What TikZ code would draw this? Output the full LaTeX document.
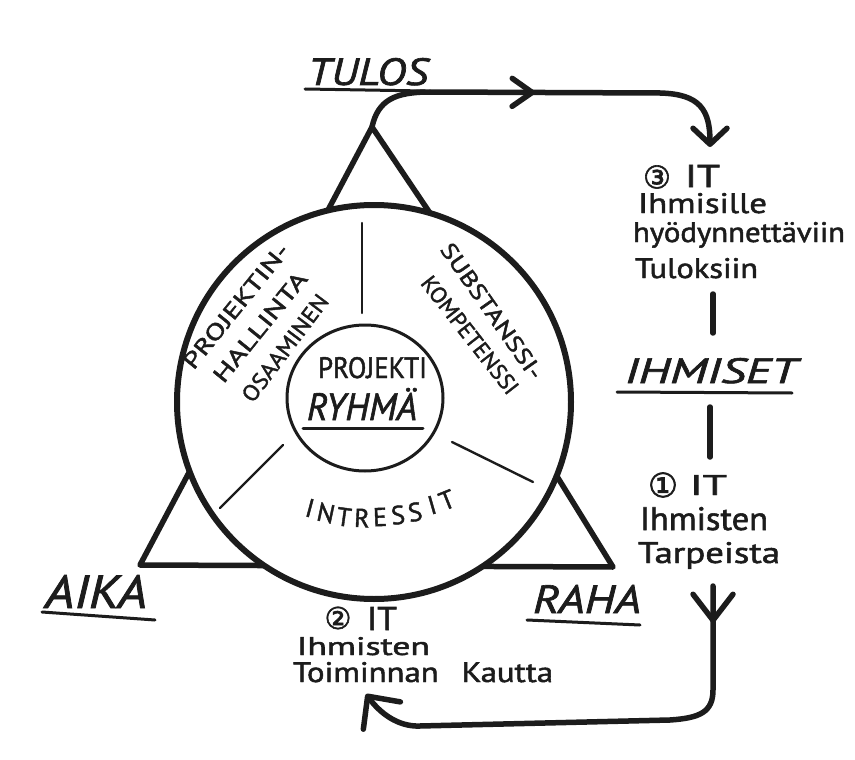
\documentclass[tikz,border=0pt]{standalone}
\usepackage{fontspec}
\usepackage{graphicx}
\setmainfont{PT Sans}[FakeBold=1.6]
\newfontfamily\circfont{DejaVu Sans}[FakeBold=2]
\usetikzlibrary{arrows.meta,decorations.markings}
\definecolor{ink}{HTML}{1C1C1C}
\newcommand\fitbox[3]{\resizebox{#1pt}{#2pt}{#3}}
\begin{document}
\begin{tikzpicture}[x=1pt,y=-1pt,
  txt/.style={inner sep=0pt,outer sep=0pt,text=ink},
  heavy/.style={draw=ink,line width=5.5pt,line cap=round,line join=round},
  medium/.style={draw=ink,line width=3pt,line cap=round,line join=round},
  light/.style={draw=ink,line width=2.4pt,line cap=round},
  uline/.style={draw=ink,line width=3pt,line cap=round},
  letter/.style={txt,font=\fontsize{26}{26}\selectfont}]
\useasboundingbox (0,0) rectangle (855,760);
\fill[white] (0,0) rectangle (855,760);

% triangle
\coordinate (apex) at (372,127);
\coordinate (tl) at (140,565);
\coordinate (tr) at (613,567);
\draw[heavy] (apex) -- (438,225) -- (558,478) -- (tr) -- (tl) -- cycle;

% big circle
\coordinate (cc) at (374,402);
\draw[heavy,line width=6pt,fill=white] (cc) circle[radius=197pt];

% inner circle and dividers
\draw[medium] (365,398) ellipse[x radius=78pt,y radius=73pt];
\draw[light] (362,223) -- (362,313);
\draw[light] (283,445) -- (220,508);
\draw[light] (452,442) -- (533,482);

% ring labels
\node[txt,rotate=51] (pr1) at (236,306) {\fitbox{154}{16}{PROJEKTIN-}};
\node[txt,rotate=51] (pr2) at (260,327) {\fitbox{135}{16}{HALLINTA}};
\node[txt,rotate=53] (pr3) at (285,348) {\fitbox{128}{16}{OSAAMINEN}};
\node[txt,rotate=-55] (su1) at (492,311) {\fitbox{161}{16}{SUBSTANSSI-}};
\node[txt,rotate=-52] (su2) at (470,335) {\fitbox{143}{16}{KOMPETENSSI}};

\node[letter,rotate=-15] (i1) at (310,508) {I};
\node[letter,rotate=-12] (i2) at (326,513) {N};
\node[letter,rotate=-8] (i3) at (344,517) {T};
\node[letter,rotate=-3] (i4) at (362,518) {R};
\node[letter,rotate=2] (i5) at (380,517) {E};
\node[letter,rotate=6] (i6) at (398,515) {S};
\node[letter,rotate=10] (i7) at (415,512) {S};
\node[letter,rotate=16] (i8) at (432,505) {I};
\node[letter,rotate=22] (i9) at (447,500) {T};

% centre
\node[txt,anchor=base west] (proj) at (318,378) {\fitbox{109}{21}{PROJEKTI}};
\node[txt,anchor=base west] (ryhma) at (307,420) {\fitbox{110}{32}{\itshape RYHMÄ}};
\draw[uline] (303,428) -- (423,428);

% corner labels
\node[txt,anchor=base west] (tulos) at (308,85) {\fitbox{120}{27}{\itshape TULOS}};
\draw[uline] (305,89) -- (425,91);
\node[txt,anchor=base west] (aika) at (45,608) {\fitbox{102}{33}{\itshape AIKA}};
\draw[uline] (42,612) -- (155,620);
\node[txt,anchor=base west] (raha) at (533,613) {\fitbox{108}{28}{\itshape RAHA}};
\draw[uline] (527,620) -- (640,625);

% right column
\node[txt] (c3) at (657,177) {\resizebox{28pt}{!}{\circfont ③}};
\node[txt,anchor=base west] (it3) at (685,187) {\fitbox{35}{22}{IT}};
\node[txt,anchor=base west] (ihs) at (638,213) {\fitbox{129}{20}{Ihmisille}};
\node[txt,anchor=base west] (hyo) at (633,242) {\fitbox{212}{20}{hyödynnettäviin}};
\node[txt,anchor=base west] (tul) at (635,278) {\fitbox{123}{20}{Tuloksiin}};
\node[txt,anchor=base west] (ihm) at (625,383) {\fitbox{172}{25}{\itshape IHMISET}};
\draw[uline] (617,392) -- (792,393);
\node[txt] (c1) at (663,485) {\resizebox{30pt}{!}{\circfont ①}};
\node[txt,anchor=base west] (it1) at (690,495) {\fitbox{37}{20}{IT}};
\node[txt,anchor=base west] (ihr) at (640,530) {\fitbox{128}{23}{Ihmisten}};
\node[txt,anchor=base west] (tar) at (638,563) {\fitbox{142}{21}{Tarpeista}};

\coordinate (b1t) at (713,294);
\coordinate (b1b) at (713,333);
\coordinate (b2t) at (710,407);
\coordinate (b2b) at (710,457);
\draw[heavy] (b1t) -- (b1b);
\draw[heavy] (b2t) -- (b2b);

% bottom label
\node[txt] (c2) at (338,618) {\resizebox{27pt}{!}{\circfont ②}};
\node[txt,anchor=base west] (it2) at (367,630) {\fitbox{30}{23}{IT}};
\node[txt,anchor=base west] (ihb) at (297,655) {\fitbox{133}{18}{Ihmisten}};
\node[txt,anchor=base west] (toi) at (293,682) {\fitbox{260}{20}{Toiminnan\hspace{0.7em}Kautta}};

% arrows
\coordinate (topend) at (710,147);
\draw[heavy,-{Straight Barb[round,length=16pt,width=34pt]},
  postaction={decorate},
  decoration={markings,mark=at position 180pt with {\arrow{Straight Barb[round,length=20pt,width=28pt]}}}]
  (apex) .. controls (378,100) and (395,92) .. (430,92) -- (660,93)
  .. controls (700,94) and (710,110) .. (topend);

\coordinate (botstart) at (713,586);
\coordinate (botend) at (366,694);
\draw[heavy,-{Straight Barb[round,length=24pt,width=46pt]},
  postaction={decorate},
  decoration={markings,mark=at position 37pt with {\arrow{Straight Barb[round,length=26pt,width=40pt]}}}]
  (botstart) -- (713,690) .. controls (713,712) and (700,718) .. (670,720)
  -- (420,726) .. controls (398,727) and (380,713) .. (botend);
\end{tikzpicture}
\end{document}
